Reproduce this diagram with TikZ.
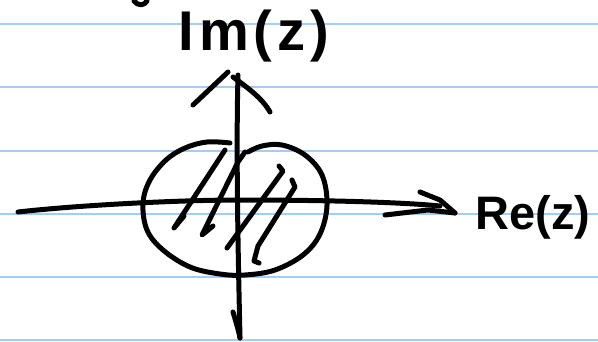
\documentclass[tikz,border=0pt]{standalone}
\usepackage{fontspec}
\setmainfont{Liberation Sans}
\definecolor{ruled}{RGB}{160,205,250}
\begin{document}
\begin{tikzpicture}[x=1pt,y=-1pt,
  ink/.style={line width=5pt,line cap=round,line join=round},
  rule/.style={draw=ruled,line width=2.5pt},
  hand/.style={inner sep=0pt,anchor=base,font=\bfseries}]
\useasboundingbox (0,0) rectangle (598,341);
\fill[white] (0,0) rectangle (598,341);
% ruled paper
\foreach \yy in {24,87,151,214,277,340} \draw[rule] (0,\yy) -- (598,\yy);
% named points
\coordinate (xs) at (18,212);
\coordinate (xe) at (440,206);
\coordinate (ys) at (240,338);
\coordinate (ye) at (238,75);
% stray stroke at the top
\draw[ink] (134,1) .. controls (138,6) and (144,6) .. (147,1);
% horizontal axis
\draw[ink] (xs) .. controls (80,205) and (180,200) .. (240,200)
  .. controls (320,200) and (400,202) .. (xe);
\draw[ink] (420,192) -- (440,200) -- (455,213);
\draw[ink] (385,215) -- (428,210) -- (455,213);
% vertical axis
\draw[ink] (ys) .. controls (238,250) and (236,150) .. (ye);
\draw[ink] (233,312) .. controls (236,322) and (239,332) .. (ys);
\draw[ink] (193,105) -- (228,72);
\draw[ink] (233,77) .. controls (248,88) and (262,98) .. (270,112);
% closed disc outline
\draw[ink] plot[smooth,tension=0.6] coordinates {
  (230,143) (207,142) (185,148) (166,160) (150,180) (143,203) (147,230)
  (163,250) (190,267) (220,274) (245,275) (275,270) (303,255) (320,234)
  (327,205) (322,175) (305,155) (282,145) (262,146) (248,152)};
% hatching
\draw[ink] (225,150) -- (174,228) -- (184,216);
\draw[ink] (213,226) -- (202,235) -- (238,162) -- (245,152);
\draw[ink] (279,166) -- (283,171) -- (227,248);
\draw[ink] (292,180) -- (295,187) -- (258,246) -- (254,261) -- (259,263);
% labels
\node[hand,font=\bfseries\fontsize{56}{60}\selectfont\addfontfeature{LetterSpace=9}] (im) at (254,50) {Im(z)};
\node[hand,font=\bfseries\fontsize{47}{52}\selectfont] (re) at (533,229) {Re(z)};
\end{tikzpicture}
\end{document}
